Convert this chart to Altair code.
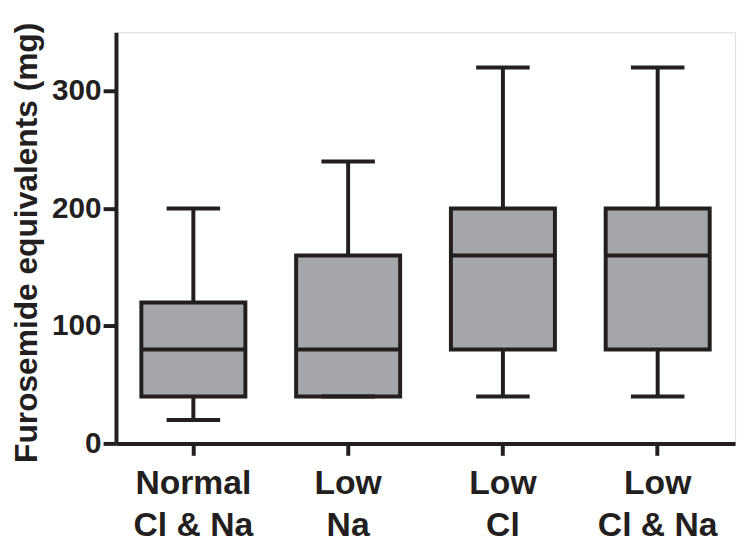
import altair as alt
import pandas as pd

categories = ["Normal\nCl & Na", "Low\nNa", "Low\nCl", "Low\nCl & Na"]
whisker_low = [20, 40, 40, 40]
q1 = [40, 40, 80, 80]
median = [80, 80, 160, 160]
q3 = [120, 160, 200, 200]
whisker_high = [200, 240, 320, 320]

df = pd.DataFrame({
    "cat": categories,
    "lo": whisker_low,
    "q1": q1,
    "med": median,
    "q3": q3,
    "hi": whisker_high,
})

INK = "#231f20"
FILL = "#a5a6aa"
FONT = "Liberation Sans"

xenc = alt.X(
    "cat:N",
    sort=categories,
    scale=alt.Scale(paddingInner=0, paddingOuter=0),
    axis=alt.Axis(
        title=None,
        labelExpr="split(datum.label, '\\n')",
        labelAngle=0,
        labelFont=FONT,
        labelFontSize=34,
        labelFontWeight="bold",
        labelColor=INK,
        labelLineHeight=42,
        labelPadding=12,
        domainColor=INK,
        domainWidth=4,
        tickColor=INK,
        tickWidth=4,
        tickSize=12,
    ),
)

yscale = alt.Scale(domain=[0, 350], nice=False, zero=True)
yaxis = alt.Axis(
    title="Furosemide equivalents (mg)",
    titleFont=FONT,
    titleFontSize=32,
    titleFontWeight="bold",
    titleColor=INK,
    titlePadding=8,
    titleY=212,
    values=[0, 100, 200, 300],
    labelFont=FONT,
    labelFontSize=30,
    labelFontWeight="bold",
    labelColor=INK,
    labelPadding=2,
    domainColor=INK,
    domainWidth=4,
    tickColor=INK,
    tickWidth=4,
    tickSize=13,
    grid=False,
)

base = alt.Chart(df)

whiskers = base.mark_rule(color=INK, strokeWidth=4).encode(
    x=xenc,
    y=alt.Y("lo:Q", scale=yscale, axis=yaxis),
    y2="hi:Q",
)

boxes = base.mark_bar(size=105, fill=FILL, stroke=INK, strokeWidth=4, opacity=1).encode(
    x=xenc,
    y=alt.Y("q1:Q", scale=yscale, axis=yaxis),
    y2="q3:Q",
)

med = base.mark_tick(size=105, thickness=4, color=INK, opacity=1).encode(
    x=xenc,
    y=alt.Y("med:Q", scale=yscale, axis=yaxis),
)

cap_lo = base.mark_tick(size=54, thickness=4, color=INK, opacity=1).encode(
    x=xenc,
    y=alt.Y("lo:Q", scale=yscale, axis=yaxis),
)

cap_hi = base.mark_tick(size=54, thickness=4, color=INK, opacity=1).encode(
    x=xenc,
    y=alt.Y("hi:Q", scale=yscale, axis=yaxis),
)

chart = alt.layer(whiskers, boxes, med, cap_lo, cap_hi).properties(
    width=625,
    height=415,
    autosize=alt.AutoSizeParams(type="none"),
    padding={"left": 109, "top": 22, "right": 8, "bottom": 100},
).configure_view(stroke=None).configure(background="white")

chart.save("out.html", embed_options={"renderer": "svg", "actions": False})
